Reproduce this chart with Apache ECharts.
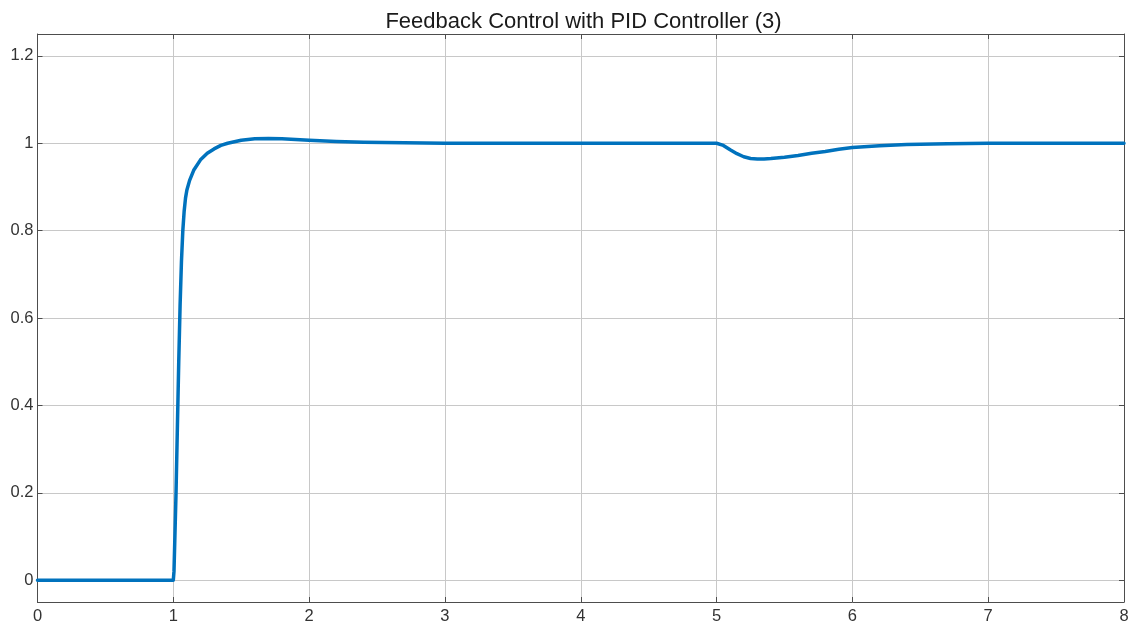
<!DOCTYPE html>
<html>
<head>
<meta charset="utf-8">
<title>Feedback Control with PID Controller (3)</title>
<script src="https://cdn.jsdelivr.net/npm/echarts@6/dist/echarts.min.js"></script>
<style>
  html, body { margin: 0; padding: 0; background: #ffffff; }
  #chart { width: 1132px; height: 630px; }
</style>
</head>
<body>
<div id="chart"></div>
<script>
// Closed-loop step response: setpoint step at t = 1, load disturbance at t = 5
const timeValues = [
  0, 1.0, 1.005, 1.01, 1.02, 1.03, 1.04, 1.05, 1.06, 1.07, 1.08, 1.09, 1.10,
  1.12, 1.15, 1.20, 1.25, 1.30, 1.35, 1.40, 1.50, 1.60, 1.70, 1.80, 2.0, 2.2,
  2.4, 2.7, 3.0, 4.0, 5.0, 5.05, 5.10, 5.15, 5.20, 5.25, 5.30, 5.35, 5.40,
  5.50, 5.60, 5.70, 5.80, 5.90, 6.0, 6.2, 6.4, 6.7, 7.0, 7.5, 8.0
];
const outputValues = [
  0, 0, 0.02, 0.08, 0.20, 0.35, 0.50, 0.63, 0.73, 0.80, 0.845, 0.875, 0.893,
  0.915, 0.938, 0.962, 0.977, 0.987, 0.995, 1.0, 1.007, 1.010, 1.011, 1.010, 1.007, 1.004,
  1.002, 1.001, 1.0, 1.0, 1.0, 0.995, 0.985, 0.976, 0.969, 0.965, 0.964, 0.964, 0.965,
  0.968, 0.972, 0.977, 0.981, 0.986, 0.990, 0.994, 0.997, 0.999, 1.0, 1.0, 1.0
];
const titleText = 'Feedback Control with PID Controller (3)';
const yTickValues = [0, 0.2, 0.4, 0.6, 0.8, 1, 1.2];

const seriesData = timeValues.map((t, i) => [t, outputValues[i]]);

const axisColor = '#4d4d4d';
const gridColor = '#c8c8c8';
const labelFont = { fontFamily: 'Liberation Sans, Arial, sans-serif', fontSize: 16.5, color: '#333333' };

const chart = echarts.init(document.getElementById('chart'), null, { renderer: 'canvas' });
chart.setOption({
  animation: false,
  backgroundColor: '#ffffff',
  title: {
    text: titleText,
    left: 578.5,
    top: 6,
    textAlign: 'center',
    textStyle: { fontFamily: 'Liberation Sans, Arial, sans-serif', fontSize: 22, fontWeight: 'normal', color: '#1a1a1a' }
  },
  grid: { left: 37.5, right: 8, top: 34, bottom: 28, containLabel: false },
  xAxis: [
    {
      type: 'value', min: 0, max: 8, interval: 1, position: 'bottom',
      axisLine: { show: true, onZero: false, lineStyle: { color: axisColor, width: 1 } },
      axisTick: { show: true, inside: true, length: 5, lineStyle: { color: axisColor } },
      axisLabel: Object.assign({ margin: 6 }, labelFont),
      splitLine: { show: true, lineStyle: { color: gridColor, width: 1 } }
    },
    {
      type: 'value', min: 0, max: 8, interval: 1, position: 'top',
      axisLine: { show: true, onZero: false, lineStyle: { color: axisColor, width: 1 } },
      axisTick: { show: true, inside: true, length: 5, lineStyle: { color: axisColor } },
      axisLabel: { show: false },
      splitLine: { show: false }
    }
  ],
  yAxis: [
    {
      type: 'value', min: -0.05, max: 1.25, splitNumber: 6, position: 'left',
      axisLine: { show: true, onZero: false, lineStyle: { color: axisColor, width: 1 } },
      axisTick: { show: true, inside: true, length: 5, lineStyle: { color: axisColor } },
      axisLabel: Object.assign({
        margin: 4,
        showMinLabel: true, showMaxLabel: true,
        formatter: v => yTickValues.some(t => Math.abs(t - v) < 1e-6) ? String(Math.round(v * 10) / 10) : ''
      }, labelFont),
      splitLine: { show: true, lineStyle: { color: gridColor, width: 1 } }
    },
    {
      type: 'value', min: -0.05, max: 1.25, splitNumber: 6, position: 'right',
      axisLine: { show: true, onZero: false, lineStyle: { color: axisColor, width: 1 } },
      axisTick: { show: true, inside: true, length: 5, lineStyle: { color: axisColor } },
      axisLabel: { show: false },
      splitLine: { show: false }
    }
  ],
  series: [
    {
      type: 'line',
      xAxisIndex: 0,
      yAxisIndex: 0,
      data: seriesData,
      showSymbol: false,
      smooth: false,
      lineStyle: { color: '#0072BD', width: 3.5, join: 'round', cap: 'round' },
      z: 5
    }
  ]
});
</script>
</body>
</html>
